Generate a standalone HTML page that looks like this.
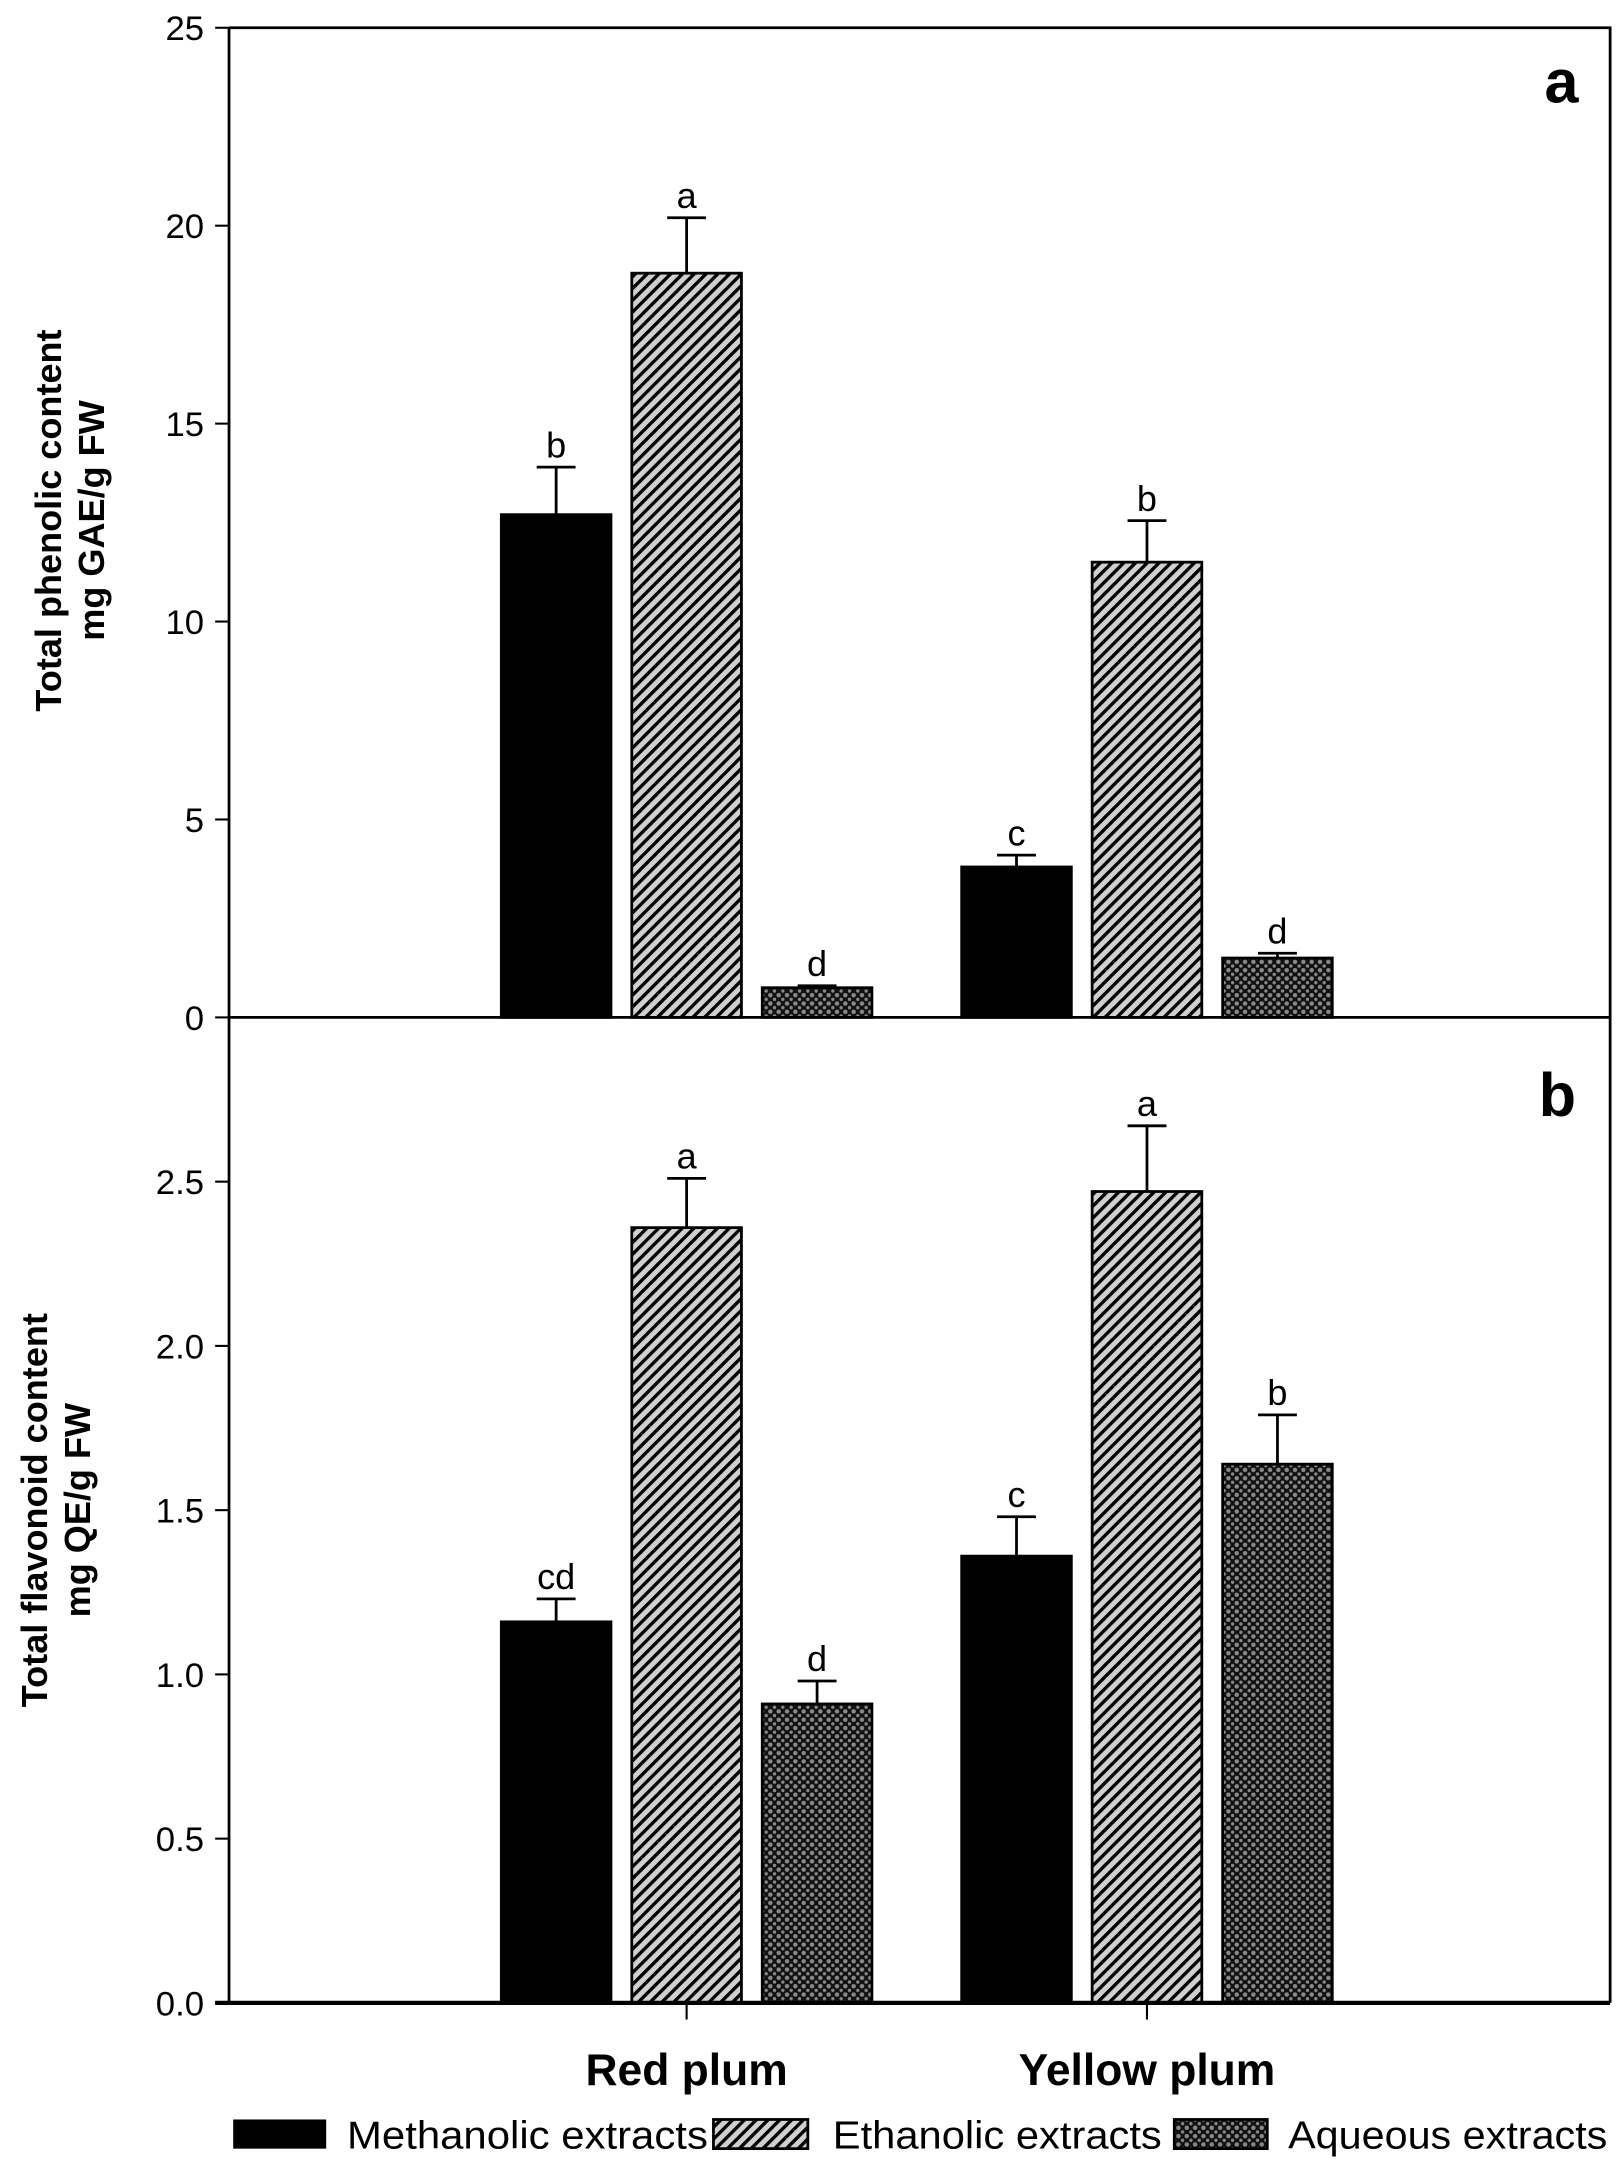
<!DOCTYPE html>
<html><head><meta charset="utf-8">
<style>
html,body{margin:0;padding:0;background:#fff;}
svg{display:block;font-family:"Liberation Sans",Arial,sans-serif;}
</style></head>
<body>
<svg id="chart" width="1624" height="2175" viewBox="0 0 1170 1567" preserveAspectRatio="none" xmlns="http://www.w3.org/2000/svg">
<defs>
<pattern id="hatch" patternUnits="userSpaceOnUse" width="6" height="6" patternTransform="rotate(45)">
<rect width="6" height="6" fill="#d0d0d0"/>
<rect x="0" y="0" width="2.4" height="6" fill="#000"/>
</pattern>
<pattern id="cross" patternUnits="userSpaceOnUse" width="6" height="6">
<rect width="6" height="6" fill="#111"/>
<circle cx="3" cy="3" r="1.6" fill="#8a8a8a"/>
<circle cx="0" cy="0" r="1.2" fill="#8a8a8a"/>
<circle cx="6" cy="0" r="1.2" fill="#8a8a8a"/>
<circle cx="0" cy="6" r="1.2" fill="#8a8a8a"/>
<circle cx="6" cy="6" r="1.2" fill="#8a8a8a"/>
</pattern>
</defs>
<g id="plot"></g>
</svg>
<script>
const categories = ["Red plum", "Yellow plum"];
const seriesNames = ["Methanolic extracts", "Ethanolic extracts", "Aqueous extracts"];
const phenolMeans = [[12.7, 18.8, 0.75], [3.8, 11.5, 1.5]];
const phenolErr = [[1.2, 1.4, 0.05], [0.3, 1.05, 0.12]];
const phenolLetters = [["b", "a", "d"], ["c", "b", "d"]];
const phenolTicks = ["0", "5", "10", "15", "20", "25"];
const phenolTickVals = [0, 5, 10, 15, 20, 25];
const flavMeans = [[1.16, 2.36, 0.91], [1.36, 2.47, 1.64]];
const flavErr = [[0.07, 0.15, 0.07], [0.12, 0.2, 0.15]];
const flavLetters = [["cd", "a", "d"], ["c", "a", "b"]];
const flavTicks = ["0.0", "0.5", "1.0", "1.5", "2.0", "2.5"];
const flavTickVals = [0, 0.5, 1.0, 1.5, 2.0, 2.5];

const NS = "http://www.w3.org/2000/svg";
const g = document.getElementById("plot");
const L = 165, R = 1160;
const fills = ["#000", "url(#hatch)", "url(#cross)"];
function mk(tag, attrs, parent) {
  const e = document.createElementNS(NS, tag);
  for (const k in attrs) e.setAttribute(k, attrs[k]);
  (parent || g).appendChild(e);
  return e;
}
function xCat(i) { return L + (R - L) * (i + 1) / 3; }
const barW = 79, barGap = 94;

function panel(top, bottom, max, means, errs, letters, ticks, tickVals, name) {
  const y = v => bottom - (bottom - top) * v / max;
  ticks.forEach((t, i) => {
    const ty = y(tickVals[i]);
    const tk = mk("line", {x1: L - 10, x2: L, y1: ty, y2: ty, stroke: "#000", "stroke-width": 1.5});
    
    
    const tl = mk("text", {x: L - 18, y: ty + 9, "text-anchor": "end", "font-size": 25});
    tl.textContent = t;
    
    
  });
  categories.forEach((c, ci) => {
    means[ci].forEach((v, si) => {
      const cx = xCat(ci) + (si - 1) * barGap - 2;
      const b = mk("rect", {x: cx - barW / 2, y: y(v), width: barW, height: bottom - y(v), fill: fills[si], stroke: "#000", "stroke-width": 2});
      
      
      const et = y(v + errs[ci][si]);
      const eb = mk("path", {d: `M${cx} ${y(v)} V${et} M${cx - 14} ${et} H${cx + 14}`, stroke: "#000", "stroke-width": 2, fill: "none"});
      
      
      const lt = mk("text", {x: cx, y: et - 7, "text-anchor": "middle", "font-size": 26});
      lt.textContent = letters[ci][si];
      
      
    });
  });
}
panel(20, 733, 25, phenolMeans, phenolErr, phenolLetters, phenolTicks, phenolTickVals, "phenolic");
panel(733, 1443, 3, flavMeans, flavErr, flavLetters, flavTicks, flavTickVals, "flavonoid");

let f = mk("path", {d: `M${L} 20 H${R} V1443 M${L} 20 V1443`, stroke: "#000", "stroke-width": 2, fill: "none"});


f = mk("line", {x1: L, x2: R, y1: 733, y2: 733, stroke: "#000", "stroke-width": 2});


f = mk("line", {x1: L - 10, x2: R, y1: 1443, y2: 1443, stroke: "#000", "stroke-width": 3});


categories.forEach((c, ci) => {
  const t = mk("line", {x1: xCat(ci) - 2, x2: xCat(ci) - 2, y1: 1443, y2: 1455, stroke: "#000", "stroke-width": 1.5});
  
  
  const lb = mk("text", {x: xCat(ci) - 2, y: 1502, "text-anchor": "middle", "font-size": 32, "font-weight": "bold"});
  lb.textContent = c;
  
  
});
</script>
<svg style="position:absolute;left:0;top:0" width="1624" height="2175" viewBox="0 0 1170 1567" preserveAspectRatio="none" xmlns="http://www.w3.org/2000/svg" font-family="Liberation Sans, Arial, sans-serif">
<text x="1125" y="74" text-anchor="middle" font-size="44" font-weight="bold">a</text>
<text x="1122" y="804" text-anchor="middle" font-size="44" font-weight="bold">b</text>
<text transform="translate(44,375) rotate(-90)" text-anchor="middle" font-size="26" font-weight="bold">Total phenolic content</text>
<text transform="translate(75,375) rotate(-90)" text-anchor="middle" font-size="26" font-weight="bold">mg GAE/g FW</text>
<text transform="translate(34,1088) rotate(-90)" text-anchor="middle" font-size="26" font-weight="bold">Total flavonoid content</text>
<text transform="translate(65,1088) rotate(-90)" text-anchor="middle" font-size="26" font-weight="bold">mg QE/g FW</text>
<g>
<rect x="168" y="1527" width="67" height="21" fill="#000"/>
<text x="250" y="1548" font-size="28" textLength="260" lengthAdjust="spacingAndGlyphs">Methanolic extracts</text>
<rect x="514" y="1527" width="68" height="21" fill="url(#hatch)" stroke="#000" stroke-width="2"/>
<text x="600" y="1548" font-size="28" textLength="237" lengthAdjust="spacingAndGlyphs">Ethanolic extracts</text>
<rect x="846" y="1527" width="67" height="21" fill="url(#cross)" stroke="#000" stroke-width="2"/>
<text x="928" y="1548" font-size="28" textLength="230" lengthAdjust="spacingAndGlyphs">Aqueous extracts</text>
</g>
</svg>
</body></html>
